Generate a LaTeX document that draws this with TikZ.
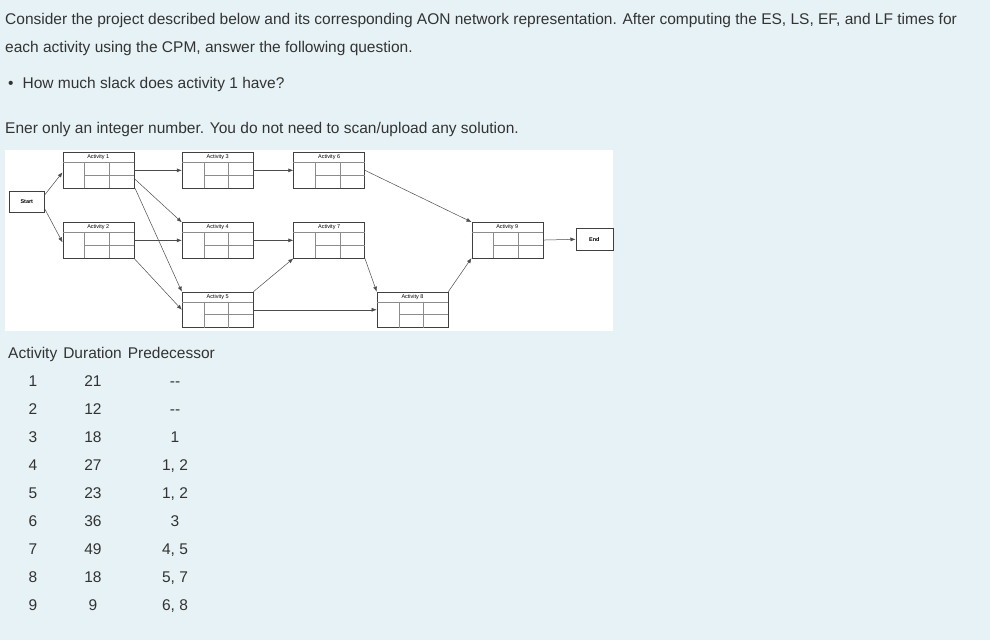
\documentclass[tikz,border=0pt]{standalone}
\usepackage{fontspec}
\setmainfont{Liberation Sans}
\usetikzlibrary{calc,arrows.meta}
\definecolor{bg}{HTML}{E6F2F5}
\definecolor{txt}{HTML}{333333}
\tikzset{
  abox/.style={draw=black!75, line width=0.6pt, fill=white, minimum width=71pt, minimum height=35.5pt, inner sep=0pt},
  sbox/.style={draw=black!75, line width=0.6pt, fill=white, minimum width=35pt, minimum height=21pt, inner sep=0pt, font=\fontsize{5.5}{6}\selectfont\bfseries},
  grid/.style={draw=black!45, line width=0.4pt},
  tlab/.style={font=\fontsize{5.5}{6}\selectfont, inner sep=0pt},
  conn/.style={draw=black!70, line width=0.5pt, -{Latex[length=5pt,width=4pt]}},
  body/.style={font=\fontsize{15.5}{17}\selectfont, text=txt, anchor=base west, inner sep=0pt},
  cell/.style={font=\fontsize{15.5}{17}\selectfont, text=txt, anchor=base, inner sep=0pt}
}
\newcommand\actbox[4]{%
  \node[abox, anchor=north west] (#1) at (#2,#3) {};
  \node[tlab] (#1l) at ($(#1.north)+(0,5)$) {#4};
  \draw[grid] ($(#1.north west)+(0,10)$) -- ($(#1.north east)+(0,10)$);
  \draw[grid] ($(#1.north west)+(22,10)$) -- ($(#1.south west)+(22,0)$);
  \draw[grid] ($(#1.north west)+(46.5,10)$) -- ($(#1.south west)+(46.5,0)$);
  \draw[grid] ($(#1.north west)+(22,22.75)$) -- ($(#1.north east)+(0,22.75)$);
}
\begin{document}
\begin{tikzpicture}[x=1pt,y=-1pt]
\fill[bg] (0,0) rectangle (990,640);
\useasboundingbox (0,0) rectangle (990,640);
\node[body] (t1) at (5,24) {Consider the project described below and its corresponding AON network representation. After computing the ES, LS, EF, and LF times for};
\node[body] (t2) at (5,52) {each activity using the CPM, answer the following question.};
\node[body] (t3) at (8,88) {•\hspace{9pt}How much slack does activity 1 have?};
\node[body] (t4) at (5,133) {Ener only an integer number. You do not need to scan/upload any solution.};
% network panel
\fill[white] (5,150) rectangle (613,331);
\node[sbox, anchor=north west] (s) at (9,191) {Start};
\node[sbox, anchor=north west, minimum width=37pt, minimum height=22pt] (e) at (575.5,228) {End};
\actbox{a1}{62.5}{152.3}{Activity 1}
\actbox{a3}{181.8}{152.3}{Activity 3}
\actbox{a6}{293.3}{152.3}{Activity 6}
\actbox{a2}{62.5}{222.3}{Activity 2}
\actbox{a4}{181.8}{222.3}{Activity 4}
\actbox{a7}{293.3}{222.3}{Activity 7}
\actbox{a9}{471.5}{222}{Activity 9}
\actbox{a5}{181.8}{291.7}{Activity 5}
\actbox{a8}{376.7}{291.7}{Activity 8}
\draw[conn] ($(s.north east)+(0,4)$) -- ($(a1.west)+(0,2)$);
\draw[conn] ($(s.south east)+(0,-4)$) -- ($(a2.west)+(0,2)$);
\draw[conn] (a1.east) -- (a3.west);
\draw[conn] ($(a1.south east)+(0,-10)$) -- (a4.north west);
\draw[conn] ($(a1.south east)+(1,0)$) -- (a5.north west);
\draw[conn] (a2.east) -- (a4.west);
\draw[conn] (a2.south east) -- (a5.west);
\draw[conn] (a3.east) -- (a6.west);
\draw[conn] (a4.east) -- (a7.west);
\draw[conn] (a5.north east) -- (a7.south west);
\draw[conn] (a5.east) -- (a8.west);
\draw[conn] (a7.south east) -- (a8.north west);
\draw[conn] (a8.north east) -- (a9.south west);
\draw[conn] ($(a6.north east)+(0,18)$) -- (a9.north west);
\draw[conn] (a9.east) -- (e.west);
% table
\node[body] (h) at (8,358) {Activity\hspace{6pt}Duration\hspace{6pt}Predecessor};
\foreach \a/\d/\p [count=\i] in {1/21/-{}-,2/12/-{}-,3/18/1,4/27/{1, 2},5/23/{1, 2},6/36/3,7/49/{4, 5},8/18/{5, 7},9/9/{6, 8}}{
  \node[cell] (ra\i) at (33,358+28*\i) {\a};
  \node[cell] (rd\i) at (93,358+28*\i) {\d};
  \node[cell] (rp\i) at (175,358+28*\i) {\p};
}
\end{tikzpicture}
\end{document}
